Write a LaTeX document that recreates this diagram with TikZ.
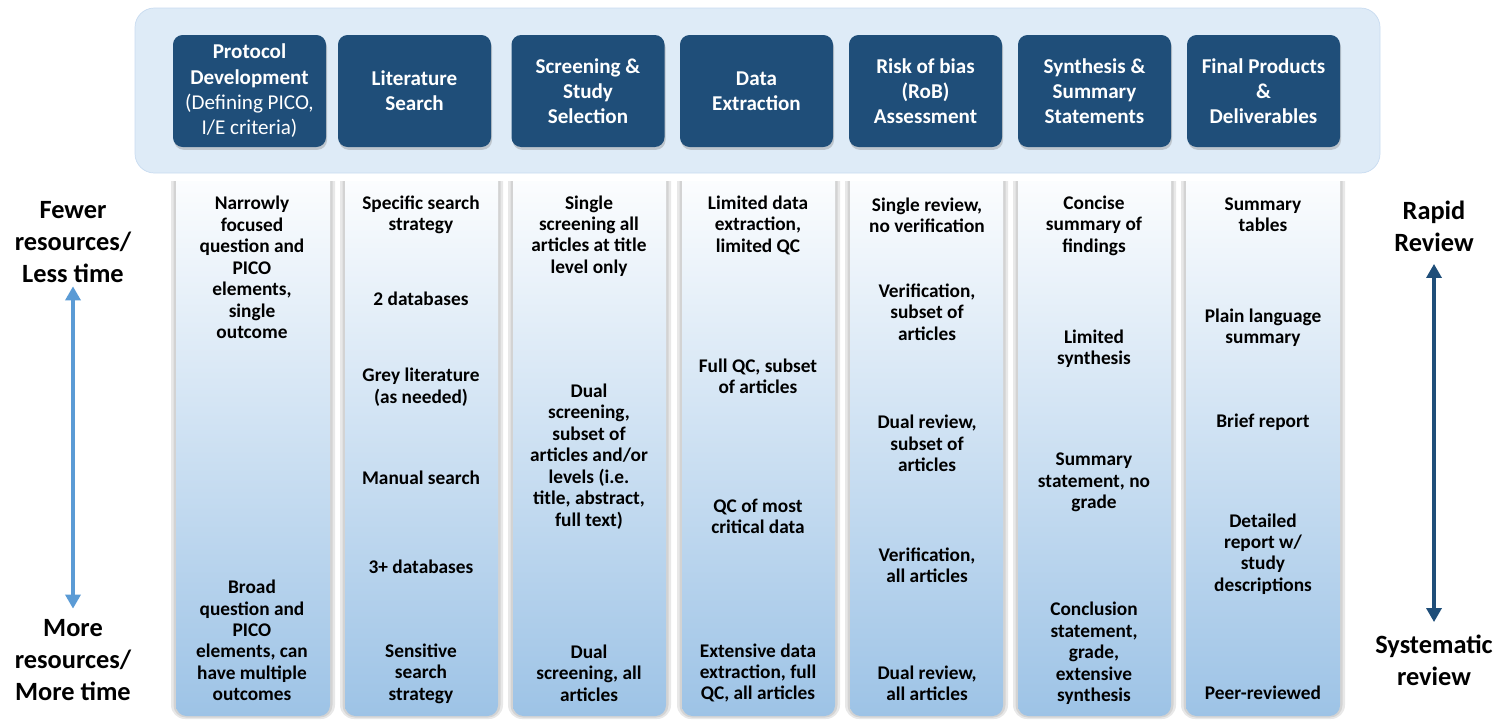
\documentclass[tikz,border=0pt]{standalone}
\usepackage{fontspec}
\setmainfont{Carlito}
\usepackage{tikz}
\usetikzlibrary{arrows.meta,positioning,shadows}
\definecolor{entete}{RGB}{31,78,121}
\definecolor{fond}{RGB}{222,235,247}
\definecolor{bordfond}{RGB}{200,219,240}
\definecolor{bas}{RGB}{157,195,230}
\definecolor{fleche}{RGB}{91,155,213}

\tikzset{
  etape/.style={fill=entete, text=white, rounded corners=5.5pt,
    minimum width=30.6mm, minimum height=22.4mm, align=center,
    font=\fontsize{12}{14.4}\selectfont\bfseries,
    drop shadow={opacity=.35, shadow xshift=.6pt, shadow yshift=-1.6pt}},
  colonne/.style={top color=white, bottom color=bas, rounded corners=6pt},
  ombre/.style={fill=black, opacity=.09},
  item/.style={font=\fontsize{11}{12.2}\selectfont\bfseries, align=center},
  cote/.style={font=\fontsize{15}{18.1}\selectfont\bfseries, align=center, inner sep=2pt},
  axe/.style={{Triangle[length=8pt,width=8.5pt]}-{Triangle[length=8pt,width=8.5pt]}, line width=2.3pt}
}

\begin{document}
\begin{tikzpicture}[x=0.2mm,y=-0.2mm]
  \useasboundingbox (0,0) rectangle (1510,719);
  % bandeau des etapes
  \draw[fill=fond, draw=bordfond, rounded corners=11pt] (135,8) rectangle (1380,173);
  \foreach \x/\n/\t in {249.5/e1/{Protocol\\Development\\{\mdseries(Defining PICO,}\\{\mdseries I/E criteria)}},
      414.5/e2/{Literature\\Search}, 588/e3/{Screening \&\\Study\\Selection},
      756.5/e4/{Data\\Extraction}, 925.5/e5/{Risk of bias\\(RoB)\\Assessment},
      1094.5/e6/{Synthesis \&\\Summary\\Statements}, 1263.5/e7/{Final Products\\\&\\Deliverables}}{
    \node[etape] (\n) at (\x,91) {\t};}
  % colonnes en degrade, coins carres en haut
  \foreach \a/\b in {176/330,345/498,513/666,682/835,850/1003,1018/1171,1186/1340}{
    \begin{scope}
      \clip (\a-20,181) rectangle (\b+20,730);
      \fill[ombre, rounded corners=8pt] (\a-5,160) rectangle (\b+5,719);
      \fill[ombre, rounded corners=7pt] (\a-2.5,160) rectangle (\b+2.5,717.5);
      \shade[colonne] (\a,160) rectangle (\b,716);
    \end{scope}}

  \node[item] (n1a) at (252,267.5) {Narrowly\\focused\\question and\\PICO\\elements,\\single\\outcome};
  \node[item] (n1b) at (252,640.5) {Broad\\question and\\PICO\\elements, can\\have multiple\\outcomes};

  \node[item] (n2a) at (421,215) {Specific search\\strategy};
  \node[item] (n2b) at (421,299) {2 databases};
  \node[item] (n2c) at (421,387) {Grey literature\\(as needed)};
  \node[item] (n2d) at (421,478) {Manual search};
  \node[item] (n2e) at (421,567) {3+ databases};
  \node[item] (n2f) at (421,673.5) {Sensitive\\search\\strategy};

  \node[item] (n3a) at (589,236) {Single\\screening all\\articles at title\\level only};
  \node[item] (n3b) at (589,456.5) {Dual\\screening,\\subset of\\articles and/or\\levels (i.e.\\title, abstract,\\full text)};
  \node[item] (n3c) at (589,673) {Dual\\screening, all\\articles};

  \node[item] (n4a) at (758,225) {Limited data\\extraction,\\limited QC};
  \node[item] (n4b) at (758,376.5) {Full QC, subset\\of articles};
  \node[item] (n4c) at (758,516.5) {QC of most\\critical data};
  \node[item] (n4d) at (758,673) {Extensive data\\extraction, full\\QC, all articles};

  \node[item] (n5a) at (927,215) {Single review,\\no verification};
  \node[item] (n5b) at (927,312) {Verification,\\subset of\\articles};
  \node[item] (n5c) at (927,443.5) {Dual review,\\subset of\\articles};
  \node[item] (n5d) at (927,565) {Verification,\\all articles};
  \node[item] (n5e) at (927,683.5) {Dual review,\\all articles};

  \node[item] (n6a) at (1094,225.5) {Concise\\summary of\\findings};
  \node[item] (n6b) at (1094,349) {Limited\\synthesis};
  \node[item] (n6c) at (1094,482.5) {Summary\\statement, no\\grade};
  \node[item] (n6d) at (1094,653.5) {Conclusion\\statement,\\grade,\\extensive\\synthesis};

  \node[item] (n7a) at (1263,215) {Summary\\tables};
  \node[item] (n7b) at (1263,328) {Plain language\\summary};
  \node[item] (n7c) at (1263,422) {Brief report};
  \node[item] (n7d) at (1263,554) {Detailed\\report w/\\study\\descriptions};
  \node[item] (n7e) at (1263,693) {Peer-reviewed};

  % axes lateraux
  \node[cote] (fewer) at (73,242) {Fewer\\resources/\\Less time};
  \node[cote] (more) at (73,660) {More\\resources/\\More time};
  \node[cote] (rapid) at (1434,226) {Rapid\\Review};
  \node[cote] (syst) at (1434,660) {Systematic\\review};
  \draw[axe, fleche, shorten >=4pt] (fewer) -- (more);
  \draw[axe, entete, shorten <=5pt, shorten >=5pt] (rapid) -- (syst);
\end{tikzpicture}
\end{document}
